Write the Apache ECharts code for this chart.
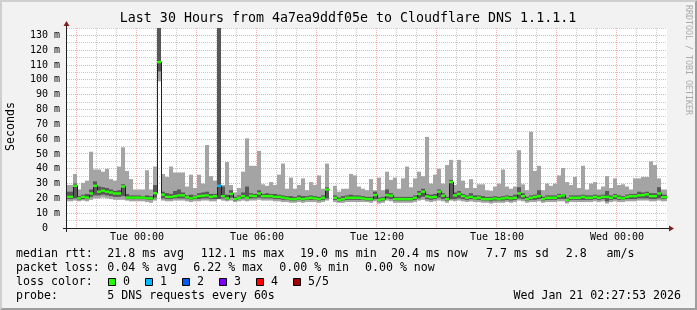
<!DOCTYPE html>
<html>
<head>
<meta charset="utf-8">
<script src="https://cdn.jsdelivr.net/npm/echarts@6/dist/echarts.min.js"></script>
<style>
html,body{margin:0;padding:0;background:#f2f2f2;}
#c{width:697px;height:310px;}
</style>
</head>
<body>
<div id="c"></div>
<script>
// ---------------- data ----------------
// time in minutes relative to Tue 00:00; 12-minute consolidated steps
const stepMinutes = 12;
const firstStepStart = -216;
const xMin = -210, xMax = 1590;   // last 30 hours
const yMin = 0, yMax = 135;       // milliseconds

// sorted ping rtts (ms) per step: ping1 (lowest) .. ping5 (highest), median = ping3
const ping1 = [
 18,18,18.5,18,18.5,18,19,20,20,20.5,
 20,19.5,19,19,19,18.5,18,18,18,18,
 17.5,17,18.5,99,18.5,18,18,18.5,18.5,18.5,
 18,17.5,18,18,18.5,18.5,18,18,19.5,18.5,
 18,18.5,17.5,18,18.5,18,18.5,18.5,19,18.5,
 18.5,18.5,18,18,17.5,17.5,17,17,17.5,17,
 17.5,17.5,17.5,17,17.5,18.5,null,17.5,17,17,
 17.5,17.5,17.5,17.5,17.5,17.5,17,18,16.5,17,
 18.5,18,17,17,17,17,17,17.5,18.5,19,
 18,17.5,18,18.5,18,17,18.5,18,18.5,18,
 17.5,18,17.5,17.5,17,17,16.5,17,17,17,
 17.5,17,17.5,18.5,18,17,17.5,17.5,18,17,
 17.5,17.5,17.5,18,18,16.5,17.5,17.5,17.5,17.5,
 17.5,17.5,18,17.5,18,16.5,17.5,18,17.5,17.5,
 18,18,18,18.5,18.5,18.5,18,18,18.5,18,18
];
const ping2 = [
 19.5,19.5,20,19,19.5,19.5,21,22,22,22.5,
 22,21.5,21,21,21.5,19.5,19.5,19.5,19.5,19.5,
 19,19,20.5,105.7,20,19.5,19.5,20,20,20,
 19.5,19,19.5,19.5,20,20,19.5,19.5,19.5,20,
 19,20.5,18.5,19.5,20,19.5,20,20,20.5,20,
 20,20,19.5,19.5,19,19,18.5,18.5,19,18.5,
 19,19,19,18.5,19,20,null,19,18,18.5,
 19,19,19,19,19,18.5,18.5,19.5,18,18.5,
 20,19.5,18.5,18.5,18.5,18.5,18.5,19,20,21,
 19.5,19,19.5,20.5,19.5,18.5,19.5,19.5,20,19.5,
 19,19.5,19,19,18.5,18.5,18,18.5,18.5,18.5,
 19,18.5,19,20,19.5,18.5,19,19,19.5,18.5,
 19,19,19,19.5,19.5,18,19,19,19,19,
 19,19,19.5,19,19.5,18,19,19.5,19,19,
 19.5,19.5,19.5,20,20,20,19.5,19.5,20,19.5,19.5
];
const median = [
 21,21,28.5,20,21,20.5,23.3,28.5,24.5,25.2,
 24.5,24,23.3,23.3,28,20.5,20.5,20.5,20.5,20.5,
 20,20,23.5,112,22.5,21,21,21.5,22,22,
 20.7,20,20.7,21.5,21.8,22,21,21.5,28.5,21.5,
 20,23,19.5,20.4,21.5,20.4,21.8,21.5,23.3,21.5,
 21.5,21.5,21,21,20.5,20,19.5,19.5,20,19.5,
 20,20.4,20,19.5,20.4,26,null,20.4,19,19.5,
 20.4,20.4,20.4,20.4,20,19.5,19.5,22.2,19,19.5,
 22.2,21.8,19.5,19.5,19.5,19.5,19.5,20.4,23,24.5,
 21.3,20.7,21,24.5,21.8,19.5,31,22,23,21.5,
 20.5,21,20,20.5,19.5,19.5,19.5,20,19.5,20,
 20.5,20,20.4,23.3,21.5,19.5,20.4,21,21.5,19.5,
 20.4,20.4,20.4,21.5,22,19,20.4,20.4,20.4,21,
 20.4,20.4,21,20.4,21,21,20.4,21.5,20.4,20,
 21,21.5,21.5,22,22.2,22.7,21.5,21.5,23.3,20.8,20.8
];
const ping4 = [
 24.5,24.5,30,21.5,22.5,23,26,31.5,28,27.5,
 27,26,25,25.5,29.5,23,22,22,22,21.5,
 22,21.5,29,300,24.5,23.5,23,25,26,24,
 22,22.5,22,23.5,24,24.5,23,23,300,28,
 22.5,25.5,21,22,24,28,23.5,23,25.5,23,
 23.5,23,23,22.5,22,21.5,21.5,21,22,21.5,
 21.5,22,21.5,21,22,27.5,null,22,20.5,21.5,
 22,22.5,22,22,21.5,21,21,24.5,20.5,21,
 26,23.5,21,21,21,21,21,22,25,26.5,
 23,22.5,23,26,23.5,21,32.5,24,25,23,
 22,23.5,22,22,21.5,21,21,21.5,21,21.5,
 22,21.5,22.5,27.5,23.5,21,22,22.5,25.5,21,
 22,22,22,23,23,20.5,22,22,22,22.5,
 22,22,22.5,22,22.5,25,22,23,22,21.5,
 22.5,23,23,24.5,24,24.5,23.5,23.5,27.5,22.5,22.5
];
const ping5 = [
 29,29,36.5,26,30.5,32,51.5,39.5,39.5,38,
 40,33,32,41.5,54.5,38.5,33,26,26,26,
 39,26,41.5,300,36.5,34.5,41.5,37.5,37.5,37.5,
 28,36,27,36,30,56,35,32,300,29,
 44.5,29,24,27,38,60.5,42,42,52,29.5,
 28.5,31,29,36,43.5,26.5,34,26.5,29,33.5,
 25.5,31,29,35.5,26.5,43.5,null,28.5,24.5,26.5,
 26.5,36.5,35.5,28,26.5,25.5,33,25.5,34,25.5,
 38,32.5,34,26.5,33.5,41.5,27.5,33.5,38,35,
 61.5,30,36,40,30,42.5,46,29,46,32,
 27,33,27,29.5,29.5,25.5,25,28,30,39.5,
 28,26.5,28,52.5,29.5,25.5,65,38.5,42,25.5,
 30,28.5,30,35.5,40.5,31,29,34.5,27,42,
 26,30,31,26,28,35,27,33.5,29,29.5,
 28,26,33.5,33.5,34.5,34.5,45,42.5,33.5,26,26
];
// number of lost pings (of 5) per step
const lossCount = [
 0,0,0,0,0,0,0,0,0,0, 0,0,0,0,0,0,0,0,0,0,
 0,0,0,0,0,0,0,0,0,0, 0,0,0,0,0,0,0,0,1,0,
 0,0,0,0,0,0,0,0,0,0, 0,0,0,0,0,0,0,0,0,0,
 0,0,0,0,0,0,0,0,0,0, 0,0,0,0,0,0,0,0,0,0,
 0,0,0,0,0,0,0,0,0,0, 0,0,0,0,0,0,0,0,0,0,
 0,0,0,0,0,0,0,0,0,0, 0,0,0,0,0,0,0,0,0,0,
 0,0,0,0,0,0,0,0,0,0, 0,0,0,0,0,0,0,0,0,0,
 0,0,0,0,0,0,0,0,0,0,0
];

const xTickValues = [0, 360, 720, 1080, 1440];
const xTickLabels = ['Tue 00:00', 'Tue 06:00', 'Tue 12:00', 'Tue 18:00', 'Wed 00:00'];
const yTickValues = [0,10,20,30,40,50,60,70,80,90,100,110,120,130];

const lossColors = ['#26ff00', '#00b8ff', '#0059ff', '#7e00ff', '#ff0000', '#a10000'];
const lossLabels = ['0', '1', '2', '3', '4', '5/5'];

const titleText = 'Last 30 Hours from 4a7ea9ddf05e to Cloudflare DNS 1.1.1.1';
const legendRows = [
  [['median rtt:', 16], ['21.8 ms avg', 107.3], ['112.1 ms max', 200.7], ['19.0 ms min', 300], ['20.4 ms now', 391], ['7.7 ms sd', 486], ['2.8', 565.7], ['am/s', 606.5]],
  [['packet loss:', 16], ['0.04 % avg', 107.3], ['6.22 % max', 193.3], ['0.00 % min', 279.3], ['0.00 % now', 365]],
  [['loss color:', 16]],
  [['probe:', 16], ['5 DNS requests every 60s', 107.3]]
];
const stampText = 'Wed Jan 21 02:27:53 2026';

// ---------------- styling ----------------
const FONT = '"DejaVu Sans Mono", monospace';
const LEGEND_SIZE = 11.6;
const SMOKE_OUTER = '#a4a4a4';
const SMOKE_INNER = '#585858';
const MEDIAN_LINE = '#202020';
const GRID_MINOR = 'rgba(143,143,143,0.45)';
const GRID_MAJOR = 'rgba(225,70,70,0.45)';
const AXIS_COL = '#1f1f1f';
const ARROW_COL = '#801f1f';
const G = {left: 67, top: 28, width: 600, height: 200};
const swidth = yMax / G.height; // one pixel in ms

const stepStarts = ping5.map((_, i) => firstStepStart + i * stepMinutes);

function clipTo(params, shape) {
  const cs = params.coordSys;
  return echarts.graphic.clipRectByRect(shape, {x: cs.x, y: cs.y, width: cs.width, height: cs.height});
}

// grid lines
const gridData = [];
for (let m = -180; m <= 1560; m += 60) gridData.push([0, m, m % 180 === 0 ? 1 : 0]);
for (let v = 5; v <= 135; v += 5) gridData.push([1, v, v % 10 === 0 ? 1 : 0]);

const smokeData = [];
const bandData = [];
const lineData = [];
for (let i = 0; i < ping5.length; i++) {
  if (median[i] == null) continue;
  const t0 = stepStarts[i], t1 = t0 + stepMinutes;
  smokeData.push([t0, t1, ping1[i], ping5[i], ping2[i], ping4[i]]);
  bandData.push([t0, t1, median[i], lossCount[i]]);
  const prev = i > 0 ? median[i - 1] : null;
  lineData.push([t0, t1, median[i], prev == null ? median[i] : prev, prev == null ? 0 : 1]);
}

const chart = echarts.init(document.getElementById('c'), null, {renderer: 'canvas', width: 697, height: 310});

const graphics = [];
// frame bevel
graphics.push({type: 'polygon', z: 100, silent: true, shape: {points: [[0,310],[2,308],[2,2],[695,2],[697,0],[0,0]]}, style: {fill: '#cfcfcf'}});
graphics.push({type: 'polygon', z: 100, silent: true, shape: {points: [[2,308],[695,308],[695,2],[697,0],[697,310],[0,310]]}, style: {fill: '#9e9e9e'}});
// axes
graphics.push({type: 'line', z: 100, silent: true, shape: {x1: G.left - 0.5, y1: G.top + G.height + 4, x2: G.left - 0.5, y2: G.top - 4}, style: {stroke: AXIS_COL, lineWidth: 1}});
graphics.push({type: 'line', z: 100, silent: true, shape: {x1: G.left - 4, y1: G.top + G.height + 0.5, x2: G.left + G.width + 4, y2: G.top + G.height + 0.5}, style: {stroke: AXIS_COL, lineWidth: 1}});
graphics.push({type: 'polygon', z: 101, silent: true, shape: {points: [[G.left - 3.5, G.top - 2], [G.left + 2.5, G.top - 2], [G.left - 0.5, G.top - 7]]}, style: {fill: ARROW_COL}});
graphics.push({type: 'polygon', z: 101, silent: true, shape: {points: [[G.left + G.width + 2, G.top + G.height - 2.5], [G.left + G.width + 2, G.top + G.height + 3.5], [G.left + G.width + 7, G.top + G.height + 0.5]]}, style: {fill: ARROW_COL}});
// title
graphics.push({type: 'text', z: 100, silent: true, x: 348, y: 19, style: {text: titleText, fill: '#000', fontSize: 13.3, fontFamily: FONT, align: 'center', verticalAlign: 'middle'}});
// vertical axis title
graphics.push({type: 'text', z: 100, silent: true, x: 11, y: 126.5, rotation: Math.PI / 2, style: {text: 'Seconds', fill: '#000', fontSize: LEGEND_SIZE, fontFamily: FONT, align: 'center', verticalAlign: 'middle'}});
// watermark
graphics.push({type: 'text', z: 100, silent: true, x: 688, y: 5, rotation: -Math.PI / 2, style: {text: 'RRDTOOL / TOBI OETIKER', fill: '#aaaaaa', fontSize: 8.3, fontFamily: FONT, align: 'left', verticalAlign: 'middle'}});
// legend rows
const rowY = [254, 268.3, 282.3, 296];
legendRows.forEach((row, r) => {
  row.forEach(([txt, x]) => {
    graphics.push({type: 'text', z: 100, silent: true, x: x, y: rowY[r], style: {text: txt, fill: '#000', fontSize: LEGEND_SIZE, fontFamily: FONT, align: 'left', verticalAlign: 'middle'}});
  });
});
lossColors.forEach((col, k) => {
  const bx = 108.5 + 37 * k;
  graphics.push({type: 'rect', z: 100, silent: true, shape: {x: bx, y: 278.5, width: 7, height: 7}, style: {fill: col, stroke: '#000', lineWidth: 1}});
  graphics.push({type: 'text', z: 100, silent: true, x: bx + 14.5, y: rowY[2], style: {text: lossLabels[k], fill: '#000', fontSize: LEGEND_SIZE, fontFamily: FONT, align: 'left', verticalAlign: 'middle'}});
});
graphics.push({type: 'text', z: 100, silent: true, x: 681, y: rowY[3], style: {text: stampText, fill: '#000', fontSize: LEGEND_SIZE, fontFamily: FONT, align: 'right', verticalAlign: 'middle'}});

const option = {
  animation: false,
  backgroundColor: '#f2f2f2',
  textStyle: {fontFamily: FONT},
  grid: {left: G.left, top: G.top, width: G.width, height: G.height, show: true, backgroundColor: '#ffffff', borderWidth: 0},
  xAxis: {
    type: 'value', min: xMin, max: xMax,
    axisLine: {show: false}, axisTick: {show: false}, splitLine: {show: false},
    axisLabel: {
      customValues: xTickValues,
      formatter: v => { const k = xTickValues.indexOf(v); return k >= 0 ? xTickLabels[k] : ''; },
      color: '#000', fontSize: 10, fontFamily: FONT, margin: 4, verticalAlign: 'top'
    }
  },
  yAxis: {
    type: 'value', min: yMin, max: yMax, interval: 10,
    axisLine: {show: false}, axisTick: {show: false}, splitLine: {show: false},
    axisLabel: {
      customValues: yTickValues,
      formatter: v => v === 0 ? '0  ' : v + ' m',
      color: '#000', fontSize: 10, fontFamily: FONT, margin: 7
    }
  },
  graphic: graphics,
  series: [
    {
      type: 'custom', name: 'grid', silent: true, z: 1,
      data: gridData,
      renderItem: (params, api) => {
        const cs = params.coordSys;
        const orient = api.value(0), val = api.value(1), major = api.value(2);
        const style = {stroke: major ? GRID_MAJOR : GRID_MINOR, lineWidth: 1, lineDash: [1, 1]};
        if (orient === 0) {
          const p = api.coord([val, yMin]);
          const x = Math.floor(p[0]) - 0.5;
          return {type: 'line', shape: {x1: x, y1: cs.y, x2: x, y2: cs.y + cs.height}, style};
        }
        const p = api.coord([xMin, val]);
        const y = Math.floor(p[1]) + 0.5;
        return {type: 'line', shape: {x1: cs.x, y1: y, x2: cs.x + cs.width, y2: y}, style};
      }
    },
    {
      type: 'custom', name: 'smoke', silent: true, z: 2,
      data: smokeData,
      renderItem: (params, api) => {
        const t0 = api.value(0), t1 = api.value(1);
        const bands = [[api.value(2), api.value(3), SMOKE_OUTER], [api.value(4), api.value(5), SMOKE_INNER]];
        const children = [];
        bands.forEach(([lo, hi, col]) => {
          const a = api.coord([t0, hi]);
          const b = api.coord([t1, lo]);
          const r = clipTo(params, {x: a[0], y: a[1], width: b[0] - a[0], height: b[1] - a[1]});
          if (r) children.push({type: 'rect', shape: r, style: {fill: col}});
        });
        return {type: 'group', children};
      }
    },
    {
      type: 'custom', name: 'median line', silent: true, z: 3,
      data: lineData,
      renderItem: (params, api) => {
        const t0 = api.value(0), t1 = api.value(1), m = api.value(2), pm = api.value(3), hasPrev = api.value(4);
        const cs = params.coordSys;
        const clampY = y => Math.max(cs.y, Math.min(cs.y + cs.height, y));
        const a = api.coord([t0, m]), b = api.coord([t1, m]);
        const x0 = Math.max(cs.x, a[0]) + 0.5;
        const pts = [];
        if (hasPrev) {
          const pp = api.coord([t0, pm]);
          pts.push([x0, clampY(pp[1])]);
        }
        pts.push([x0, clampY(a[1])]);
        pts.push([Math.min(cs.x + cs.width, b[0]) + 0.5, clampY(a[1])]);
        return {type: 'polyline', shape: {points: pts}, style: {stroke: MEDIAN_LINE, lineWidth: 1, fill: null}};
      }
    },
    {
      type: 'custom', name: 'median', silent: true, z: 4,
      data: bandData,
      renderItem: (params, api) => {
        const t0 = api.value(0), t1 = api.value(1), m = api.value(2), loss = api.value(3);
        const a = api.coord([t0, m + 1.2 * swidth]);
        const b = api.coord([t1, m - 1.2 * swidth]);
        const r = clipTo(params, {x: a[0], y: a[1], width: b[0] - a[0], height: b[1] - a[1]});
        if (!r) return null;
        return {type: 'rect', shape: r, style: {fill: lossColors[loss]}};
      }
    }
  ]
};
chart.setOption(option);
</script>
</body>
</html>
